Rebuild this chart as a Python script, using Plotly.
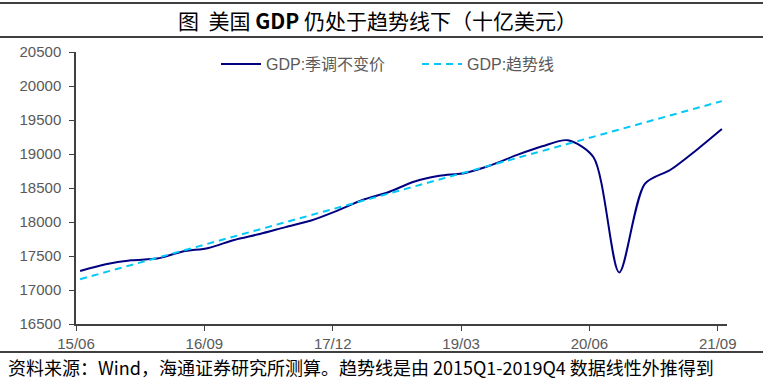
import plotly.graph_objects as go

quarters = ["2015Q1","2015Q2","2015Q3","2015Q4","2016Q1","2016Q2","2016Q3","2016Q4",
            "2017Q1","2017Q2","2017Q3","2017Q4","2018Q1","2018Q2","2018Q3","2018Q4",
            "2019Q1","2019Q2","2019Q3","2019Q4","2020Q1","2020Q2","2020Q3","2020Q4",
            "2021Q1","2021Q2"]
gdp_real = [17280, 17380, 17437, 17462, 17565, 17619, 17736, 17824,
            17925, 18022, 18164, 18323, 18438, 18591, 18679, 18721,
            18834, 18983, 19113, 19202, 18952, 17258, 18561, 18768,
            19056, 19368]
gdp_trend = [17159, 17264, 17369, 17473, 17578, 17683, 17788, 17892,
             17997, 18102, 18207, 18311, 18416, 18521, 18626, 18730,
             18835, 18940, 19045, 19149, 19254, 19359, 19464, 19568,
             19673, 19778]
tick_labels = ["15/06", "16/09", "17/12", "19/03", "20/06", "21/09"]
y_ticks = [16500, 17000, 17500, 18000, 18500, 19000, 19500, 20000, 20500]

idx = list(range(len(quarters)))
tick_vals = [i - 0.16 for i in range(0, len(quarters), 5)]

fig = go.Figure()
fig.add_trace(go.Scatter(x=idx, y=gdp_real, mode="lines", name="GDP:季调不变价",
                         line=dict(color="#000080", width=2, shape="spline", smoothing=0.8)))
fig.add_trace(go.Scatter(x=idx, y=gdp_trend, mode="lines", name="GDP:趋势线",
                         line=dict(color="#00C8F8", width=2, dash="7px,5px")))

L, R, T, B = 76, 36, 52, 60
W, H = 763, 384
pw = W - L - R
ph = H - T - B
def px_x(p):
    return (p - L) / pw
def px_y(p):
    return (H - B - p) / ph

fig.update_layout(
    width=W, height=H,
    margin=dict(l=L, r=R, t=T, b=B),
    paper_bgcolor="white", plot_bgcolor="white",
    font=dict(family="Liberation Sans, Arial, sans-serif", size=14, color="#595959"),
    showlegend=True,
    legend=dict(orientation="h", x=px_x(216), y=px_y(64), xanchor="left", yanchor="middle",
                font=dict(size=16, color="#595959", family="Liberation Sans, Noto Sans CJK SC"),
                bgcolor="rgba(0,0,0,0)", itemwidth=40, entrywidth=146),
    xaxis=dict(range=[-0.16, 25.2], tickvals=tick_vals, ticktext=tick_labels,
               showgrid=False, zeroline=False, showline=True, linecolor="#404040", linewidth=1.5,
               ticks="outside", ticklen=5, tickcolor="#404040", tickwidth=1,
               tickfont=dict(size=15, color="#595959")),
    yaxis=dict(range=[16500, 20500], tickvals=y_ticks, tickformat="d",
               showgrid=False, zeroline=False, showline=True, linecolor="#404040", linewidth=1.5,
               ticks="outside", ticklen=5, tickcolor="#404040", tickwidth=1,
               ticklabelstandoff=5,
               tickfont=dict(size=15, color="#595959")),
    shapes=[
        dict(type="line", xref="paper", yref="paper", x0=px_x(0), x1=px_x(W), y0=px_y(3), y1=px_y(3),
             line=dict(color="#000000", width=1.5)),
        dict(type="line", xref="paper", yref="paper", x0=px_x(0), x1=px_x(W), y0=px_y(37), y1=px_y(37),
             line=dict(color="#000000", width=1.5)),
        dict(type="line", xref="paper", yref="paper", x0=px_x(0), x1=px_x(W), y0=px_y(352), y1=px_y(352),
             line=dict(color="#000000", width=1.5)),
    ],
    annotations=[
        dict(text="图  美国 <b>GDP</b> 仍处于趋势线下（十亿美元）", xref="paper", yref="paper",
             x=px_x(377), y=px_y(20), xanchor="center", yanchor="middle", showarrow=False,
             font=dict(family="Noto Sans CJK SC", size=21, color="#000000")),
        dict(text="资料来源：Wind，海通证券研究所测算。趋势线是由 2015Q1-2019Q4 数据线性外推得到",
             xref="paper", yref="paper", x=px_x(6), y=px_y(367), xanchor="left", yanchor="middle",
             showarrow=False, font=dict(family="Noto Sans CJK SC", size=18, color="#000000")),
    ],
)

fig.write_html("out.html", post_script="document.body.style.margin='0';",
               config={"displayModeBar": False})
